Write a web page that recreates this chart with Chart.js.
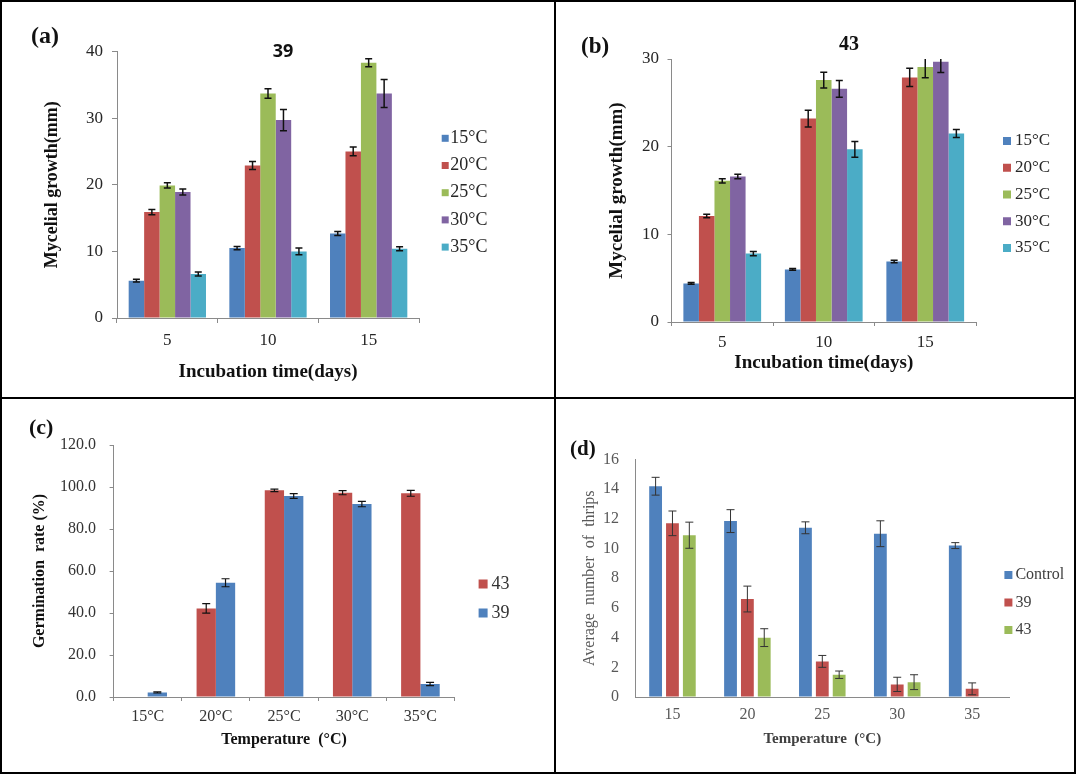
<!DOCTYPE html>
<html>
<head>
<meta charset="utf-8">
<title>Temperature effects on isolates 39 and 43</title>
<script src="https://cdn.jsdelivr.net/npm/chart.js@4.4.0/dist/chart.umd.min.js"></script>
<style>
    html, body { margin: 0; padding: 0; background: #fff; }
    #figure { position: relative; width: 1078px; height: 775px; background: #fff; overflow: hidden; }
    #figure canvas { position: absolute; }
    .rule { position: absolute; background: #000; }
    .tag { position: absolute; font-family: 'Liberation Serif', 'Times New Roman', serif; font-weight: bold; line-height: 1; color: #111; }
</style>
</head>
<body>
<div id="figure">
    <canvas id="chart-a" width="551" height="394" style="left:3px;top:3px"></canvas>
    <canvas id="chart-b" width="517" height="394" style="left:557px;top:3px"></canvas>
    <canvas id="chart-c" width="551" height="372" style="left:3px;top:400px"></canvas>
    <canvas id="chart-d" width="517" height="372" style="left:557px;top:400px"></canvas>

    <div class="rule" style="left:0;top:0;width:1076px;height:2px"></div>
    <div class="rule" style="left:0;top:772px;width:1076px;height:2px"></div>
    <div class="rule" style="left:0;top:0;width:2px;height:774px"></div>
    <div class="rule" style="left:1074px;top:0;width:2px;height:774px"></div>
    <div class="rule" style="left:554px;top:0;width:2px;height:774px"></div>
    <div class="rule" style="left:0;top:397px;width:1076px;height:2px"></div>

    <div class="tag" style="left:31px;top:23px;font-size:24px">(a)</div>
    <div class="tag" style="left:581px;top:34px;font-size:23px">(b)</div>
    <div class="tag" style="left:29px;top:416px;font-size:22px">(c)</div>
    <div class="tag" style="left:570px;top:438px;font-size:21px">(d)</div>
</div>
<script>
// ---- data ----
const incubationDays = ['5', '10', '15'];
const growthTemps = ['15°C', '20°C', '25°C', '30°C', '35°C'];
const growthColors = ['#4F81BD', '#C0504D', '#9BBB59', '#8064A2', '#4BACC6'];

// (a) isolate 39, one row per temperature, one value per day
const growth39 = [
    [5.6, 10.5, 12.7],
    [15.9, 22.9, 25.0],
    [19.9, 33.7, 38.3],
    [18.9, 29.7, 33.7],
    [6.6, 10.0, 10.4]
];
const growth39Err = [
    [0.2, 0.25, 0.3],
    [0.4, 0.6, 0.65],
    [0.4, 0.7, 0.6],
    [0.45, 1.6, 2.1],
    [0.3, 0.5, 0.3]
];

// (b) isolate 43
const growth43 = [
    [4.4, 6.0, 6.9],
    [12.1, 23.2, 27.9],
    [16.1, 27.6, 29.1],
    [16.6, 26.6, 29.7],
    [7.8, 19.7, 21.5]
];
const growth43Err = [
    [0.1, 0.1, 0.15],
    [0.2, 0.95, 1.05],
    [0.25, 0.9, 1.25],
    [0.25, 0.95, 1.25],
    [0.25, 0.9, 0.45]
];

// (c) germination rate (%)
const germTemps = ['15°C', '20°C', '25°C', '30°C', '35°C'];
const germSeries = ['43', '39'];
const germColors = ['#C0504D', '#4F81BD'];
const germ43 = [0, 42.2, 98.4, 97.3, 97.0];
const germ43Err = [0, 2.3, 0.6, 1.0, 1.4];
const germ39 = [2.2, 54.4, 95.7, 91.9, 6.2];
const germ39Err = [0.3, 1.9, 1.1, 1.3, 0.8];

// (d) average number of thrips
const thripsTemps = ['15', '20', '25', '30', '35'];
const thripsSeries = ['Control', '39', '43'];
const thripsColors = ['#4F81BD', '#C0504D', '#9BBB59'];
const thripsControl = [14.2, 11.85, 11.4, 11.0, 10.2];
const thripsControlErr = [0.6, 0.77, 0.4, 0.87, 0.2];
const thrips39 = [11.7, 6.6, 2.4, 0.85, 0.55];
const thrips39Err = [0.83, 0.87, 0.4, 0.48, 0.4];
const thrips43 = [10.9, 4.0, 1.5, 1.0, 0];
const thrips43Err = [0.88, 0.6, 0.25, 0.5, 0];

const SERIF = "'Liberation Serif', 'Times New Roman', serif";
const AXIS_GREY = '#8a8a8a';

// ---- plugins ----
const errorBars = {
    id: 'errorBars',
    afterDatasetsDraw(chart, args, opts) {
        const { ctx, chartArea } = chart;
        const y = chart.scales.y;
        ctx.save();
        ctx.beginPath();
        ctx.rect(chartArea.left, chartArea.top, chartArea.width, chartArea.height);
        ctx.clip();
        ctx.strokeStyle = opts.color;
        ctx.lineWidth = opts.width;
        chart.data.datasets.forEach((dataset, i) => {
            chart.getDatasetMeta(i).data.forEach((bar, j) => {
                const err = dataset.errors[j];
                if (!err) {
                    return;
                }
                const top = y.getPixelForValue(dataset.data[j] + err);
                const bottom = y.getPixelForValue(dataset.data[j] - err);
                ctx.beginPath();
                ctx.moveTo(bar.x, top);
                ctx.lineTo(bar.x, bottom);
                ctx.moveTo(bar.x - opts.cap, top);
                ctx.lineTo(bar.x + opts.cap, top);
                ctx.moveTo(bar.x - opts.cap, bottom);
                ctx.lineTo(bar.x + opts.cap, bottom);
                ctx.stroke();
            });
        });
        ctx.restore();
    }
};

// legend sitting beside the plot, the way the spreadsheet placed it
const sideLegend = {
    id: 'sideLegend',
    afterDraw(chart, args, opts) {
        const { ctx } = chart;
        ctx.save();
        ctx.font = opts.font;
        ctx.textBaseline = 'middle';
        ctx.textAlign = 'left';
        chart.data.datasets.forEach((dataset, i) => {
            const y = opts.y + i * opts.step;
            ctx.fillStyle = dataset.backgroundColor;
            ctx.fillRect(opts.x, y - opts.box / 2, opts.box, opts.box);
            ctx.fillStyle = opts.color;
            ctx.fillText(dataset.label, opts.x + opts.box + opts.gap, y);
        });
        ctx.restore();
    }
};

const panelTitle = {
    id: 'panelTitle',
    afterDraw(chart, args, opts) {
        if (!opts.text) {
            return;
        }
        const { ctx } = chart;
        ctx.save();
        ctx.font = opts.font;
        ctx.fillStyle = opts.color;
        ctx.textAlign = 'center';
        ctx.textBaseline = 'middle';
        ctx.fillText(opts.text, opts.x, opts.y);
        ctx.restore();
    }
};

function barDatasets(labels, colors, values, errors) {
    return labels.map((label, i) => ({
        label,
        data: values[i],
        errors: errors[i],
        backgroundColor: colors[i],
        borderWidth: 0
    }));
}

function makeChart(canvasId, s) {
    return new Chart(document.getElementById(canvasId), {
        type: 'bar',
        data: {
            labels: s.labels,
            datasets: s.datasets
        },
        options: {
            responsive: false,
            animation: false,
            devicePixelRatio: 1,
            layout: {
                padding: { left: 0, top: s.area.top, right: s.width - s.area.right, bottom: 0 }
            },
            datasets: {
                bar: { categoryPercentage: s.categoryPercentage, barPercentage: s.barPercentage }
            },
            scales: {
                x: {
                    afterFit: scale => { scale.height = s.height - s.area.bottom; },
                    grid: { drawOnChartArea: false, drawTicks: s.tickLength > 0, tickLength: s.tickLength, color: AXIS_GREY },
                    border: { color: AXIS_GREY },
                    ticks: { padding: s.xTickPadding, color: s.tickColor, font: { family: SERIF, size: s.tickSize } },
                    title: {
                        display: true,
                        text: s.xTitle,
                        color: s.xTitleColor,
                        font: { family: SERIF, size: s.xTitleSize, weight: 'bold' },
                        padding: { top: 0, bottom: s.xTitlePad }
                    }
                },
                y: {
                    min: 0,
                    max: s.yMax,
                    afterFit: scale => { scale.width = s.area.left; },
                    grid: { drawOnChartArea: false, drawTicks: s.tickLength > 0, tickLength: s.tickLength, color: AXIS_GREY },
                    border: { color: AXIS_GREY },
                    ticks: {
                        stepSize: s.yStep,
                        padding: s.yTickPadding,
                        color: s.tickColor,
                        font: { family: SERIF, size: s.tickSize },
                        callback: value => s.yDecimals ? value.toFixed(s.yDecimals) : value
                    },
                    title: {
                        display: true,
                        text: s.yTitle,
                        color: s.yTitleColor,
                        font: { family: SERIF, size: s.yTitleSize, weight: s.yTitleWeight },
                        padding: { top: s.yTitlePad, bottom: 0 }
                    }
                }
            },
            plugins: {
                legend: { display: false },
                tooltip: { enabled: false },
                errorBars: s.errorStyle,
                sideLegend: s.legend,
                panelTitle: s.title || {}
            }
        },
        plugins: [errorBars, sideLegend, panelTitle]
    });
}

makeChart('chart-a', {
    width: 551, height: 394,
    area: { left: 114, right: 416, top: 48.5, bottom: 315 },
    labels: incubationDays,
    datasets: barDatasets(growthTemps, growthColors, growth39, growth39Err),
    categoryPercentage: 0.768, barPercentage: 1,
    yMax: 40, yStep: 10,
    tickLength: 5, tickSize: 17, tickColor: '#262626',
    xTickPadding: 7.8, yTickPadding: 9,
    xTitle: 'Incubation time(days)', xTitleSize: 19, xTitleColor: '#111', xTitlePad: 13.6,
    yTitle: 'Mycelial growth(mm)', yTitleSize: 18, yTitleWeight: 'bold', yTitleColor: '#111', yTitlePad: 38.2,
    errorStyle: { color: '#111', width: 1.5, cap: 3.5 },
    legend: { x: 438.7, y: 135.3, step: 27.2, box: 7, gap: 1.5, font: '18px ' + SERIF, color: '#262626' },
    title: { text: '39', x: 280, y: 49, font: "bold 18px 'Open Sans', sans-serif", color: '#111' }
});

makeChart('chart-b', {
    width: 517, height: 394,
    area: { left: 114.5, right: 419, top: 56, bottom: 319 },
    labels: incubationDays,
    datasets: barDatasets(growthTemps, growthColors, growth43, growth43Err),
    categoryPercentage: 0.766, barPercentage: 1,
    yMax: 30, yStep: 10,
    tickLength: 4, tickSize: 17, tickColor: '#262626',
    xTickPadding: 6.8, yTickPadding: 8.5,
    xTitle: 'Incubation time(days)', xTitleSize: 19, xTitleColor: '#111', xTitlePad: 22.6,
    yTitle: 'Mycelial growth(mm)', yTitleSize: 19, yTitleWeight: 'bold', yTitleColor: '#111', yTitlePad: 48.6,
    errorStyle: { color: '#111', width: 1.5, cap: 3.5 },
    legend: { x: 446, y: 138, step: 26.75, box: 8, gap: 4, font: '17px ' + SERIF, color: '#262626' },
    title: { text: '43', x: 292, y: 42, font: 'bold 20px ' + SERIF, color: '#111' }
});

makeChart('chart-c', {
    width: 551, height: 372,
    area: { left: 110.6, right: 451.5, top: 45, bottom: 297 },
    labels: germTemps,
    datasets: barDatasets(germSeries, germColors, [germ43, germ39], [germ43Err, germ39Err]),
    categoryPercentage: 0.566, barPercentage: 1,
    yMax: 120, yStep: 20, yDecimals: 1,
    tickLength: 4, tickSize: 16, tickColor: '#333',
    xTickPadding: 6.4, yTickPadding: 13.6,
    xTitle: 'Temperature  (°C)', xTitleSize: 16, xTitleColor: '#111', xTitlePad: 22.4,
    yTitle: 'Germination  rate (%)', yTitleSize: 16, yTitleWeight: 'bold', yTitleColor: '#111', yTitlePad: 27.4,
    errorStyle: { color: '#111', width: 1.2, cap: 4 },
    legend: { x: 475.6, y: 184, step: 29, box: 9, gap: 4, font: '18px ' + SERIF, color: '#333' }
});

makeChart('chart-d', {
    width: 517, height: 372,
    area: { left: 78, right: 452.6, top: 59.5, bottom: 297 },
    labels: thripsTemps,
    datasets: barDatasets(thripsSeries, thripsColors,
        [thripsControl, thrips39, thrips43], [thripsControlErr, thrips39Err, thrips43Err]),
    categoryPercentage: 0.675, barPercentage: 0.76,
    yMax: 16, yStep: 2,
    tickLength: 0, tickSize: 16, tickColor: '#595959',
    xTickPadding: 8.4, yTickPadding: 16,
    xTitle: 'Temperature  (°C)', xTitleSize: 15, xTitleColor: '#404040', xTitlePad: 24,
    yTitle: 'Average  number  of  thrips', yTitleSize: 16, yTitleWeight: 'normal', yTitleColor: '#595959', yTitlePad: 23.4,
    errorStyle: { color: '#333', width: 1, cap: 4 },
    legend: { x: 447.4, y: 175, step: 27.5, box: 8, gap: 3, font: '16px ' + SERIF, color: '#404040' }
});
</script>
</body>
</html>
